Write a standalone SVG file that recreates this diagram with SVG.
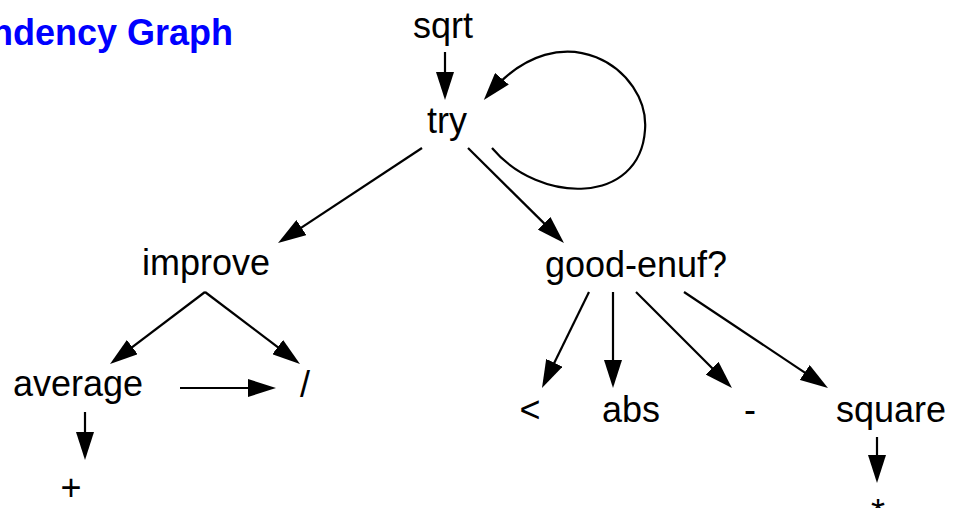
<svg xmlns="http://www.w3.org/2000/svg" width="953" height="508" viewBox="0 0 953 508">
  <style>
    .lbl { font-family: "Liberation Sans", Arial, sans-serif; font-size: 36px; fill: #000; text-anchor: middle; }
    .title { font-family: "Liberation Sans", Arial, sans-serif; font-size: 36px; font-weight: bold; fill: #0000ff; text-anchor: end; }
    .edge { fill: none; stroke: #000; stroke-width: 2.2; marker-end: url(#arrow); }
  </style>
  <defs>
    <marker id="arrow" markerUnits="userSpaceOnUse" viewBox="0 0 28 18" markerWidth="28" markerHeight="18" refX="20" refY="9" orient="auto">
      <path d="M0,0 L28,9 L0,18 z" fill="#000"/>
    </marker>
  </defs>

  <text class="title" x="233" y="45">Dependency Graph</text>

  <g id="connectors">
    <line class="edge" x1="445" y1="52" x2="445" y2="92"/>
    <path class="edge" d="M 492 148 C 540 205, 640 205, 645 130 C 650 70, 562 8, 489 94"/>
    <line class="edge" x1="422" y1="148" x2="284.7" y2="238.6"/>
    <line class="edge" x1="468" y1="148" x2="558.3" y2="237.4"/>
    <line class="edge" x1="205" y1="292" x2="116.4" y2="359.2"/>
    <line class="edge" x1="205" y1="292" x2="293.6" y2="359.2"/>
    <line class="edge" x1="180" y1="388" x2="268" y2="388"/>
    <line class="edge" x1="85" y1="412" x2="85" y2="452"/>
    <line class="edge" x1="589" y1="292" x2="545.5" y2="380.8"/>
    <line class="edge" x1="613" y1="292" x2="613" y2="380"/>
    <line class="edge" x1="636" y1="292" x2="726.3" y2="382.3"/>
    <line class="edge" x1="684" y1="292" x2="821.3" y2="383.6"/>
    <line class="edge" x1="877" y1="437" x2="877" y2="475"/>
  </g>

  <g id="node-sqrt"><text class="lbl" x="443" y="38">sqrt</text></g>
  <g id="node-try"><text class="lbl" x="447" y="133">try</text></g>
  <g id="node-improve"><text class="lbl" x="206" y="275">improve</text></g>
  <g id="node-good-enuf"><text class="lbl" x="636" y="277">good-enuf?</text></g>
  <g id="node-average"><text class="lbl" x="78" y="396">average</text></g>
  <g id="node-divide"><text class="lbl" x="305" y="397">/</text></g>
  <g id="node-plus"><text class="lbl" x="71" y="500">+</text></g>
  <g id="node-lt"><text class="lbl" x="530" y="422">&lt;</text></g>
  <g id="node-abs"><text class="lbl" x="631" y="422">abs</text></g>
  <g id="node-minus"><text class="lbl" x="750" y="422">-</text></g>
  <g id="node-square"><text class="lbl" x="891" y="422">square</text></g>
  <g id="node-times"><text class="lbl" x="878" y="525">*</text></g>
</svg>
